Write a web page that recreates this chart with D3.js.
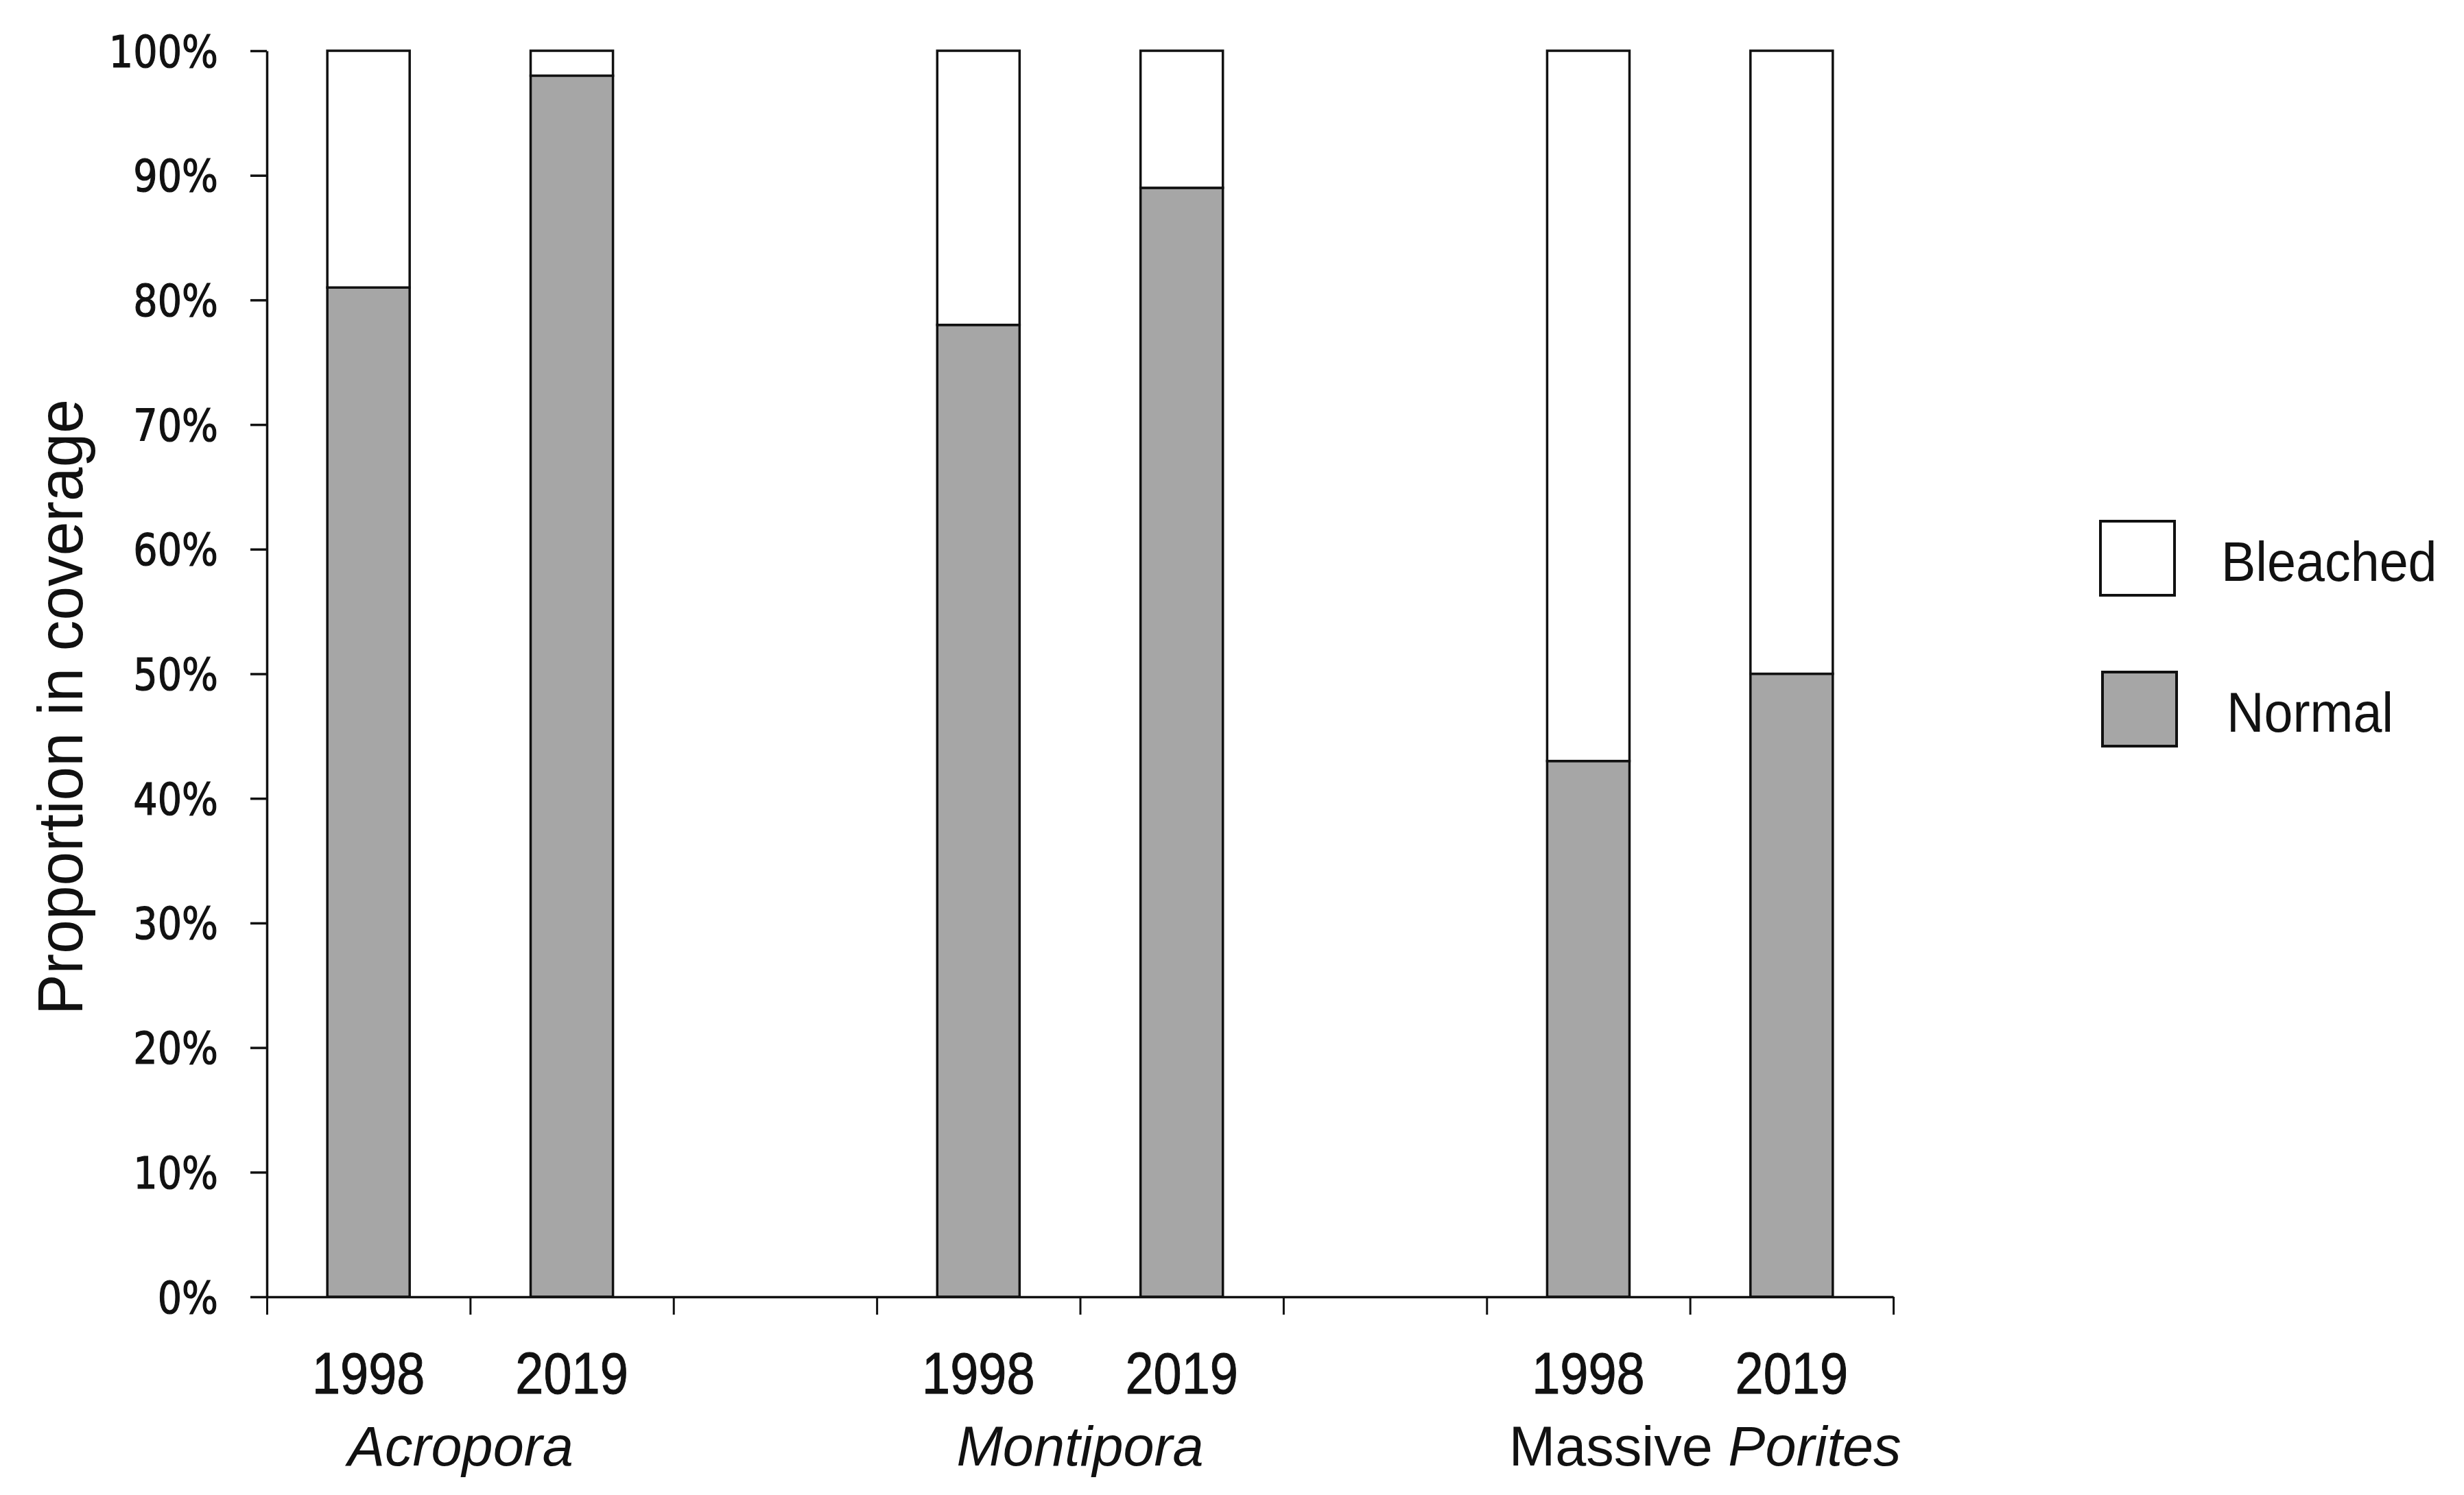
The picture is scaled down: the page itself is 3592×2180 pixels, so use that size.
<!DOCTYPE html>
<html>
<head>
<meta charset="utf-8">
<script src="https://cdn.jsdelivr.net/npm/d3@7"></script>
<style>
  html, body { margin: 0; padding: 0; background: #ffffff; }
  svg { display: block; }
</style>
</head>
<body>
<div id="chart"></div>
<script>
// ---------- data ----------
const slots = ["Acropora-1998", "Acropora-2019", "gap-1", "Montipora-1998", "Montipora-2019", "gap-2", "Porites-1998", "Porites-2019"];
const barSlots = ["Acropora-1998", "Acropora-2019", "Montipora-1998", "Montipora-2019", "Porites-1998", "Porites-2019"];
const barYears = ["1998", "2019", "1998", "2019", "1998", "2019"];
const normalPct = [81, 98, 78, 89, 43, 50];
const bleachedPct = [19, 2, 22, 11, 57, 50];
const groupNames = ["Acropora", "Montipora", "Massive Porites"];
const groupSlots = [["Acropora-1998", "Acropora-2019"], ["Montipora-1998", "Montipora-2019"], ["Porites-1998", "Porites-2019"]];
const yTicks = [0, 10, 20, 30, 40, 50, 60, 70, 80, 90, 100];
const legendLabels = ["Bleached", "Normal"];
const yTitle = "Proportion in coverage";

// ---------- layout ----------
const W = 3592, H = 2180;
const plot = { left: 389, right: 2760, top: 74, bottom: 1891 };
const gray = "#a6a6a6";
const groupLabelShift = [-14, 0, 22];

const svg = d3.select("#chart").append("svg")
  .attr("width", W).attr("height", H)
  .attr("viewBox", `0 0 ${W} ${H}`);

const x = d3.scaleBand().domain(slots).range([plot.left, plot.right]).padding(0);
const xb = d3.scaleLinear().domain([0, slots.length]).range([plot.left, plot.right]);
const y = d3.scaleLinear().domain([0, 100]).range([plot.bottom, plot.top]);

const barFrac = 0.405;
const bw = x.bandwidth() * barFrac;
const bx = s => x(s) + (x.bandwidth() - bw) / 2;

function squeeze(sel, f) {
  sel.each(function () {
    const n = this.getComputedTextLength();
    d3.select(this).attr("textLength", n * f).attr("lengthAdjust", "spacingAndGlyphs");
  });
}

// ---------- bars ----------
const rows = barSlots.map((s, i) => ({ slot: s, normal: normalPct[i], bleached: bleachedPct[i] }));
const stack = d3.stack().keys(["normal", "bleached"])(rows);
const fills = { normal: gray, bleached: "#ffffff" };

const gBars = svg.append("g");
stack.forEach(layer => {
  gBars.selectAll(null).data(layer).enter().append("rect")
    .attr("x", d => bx(d.data.slot))
    .attr("width", bw)
    .attr("y", d => y(d[1]))
    .attr("height", d => y(d[0]) - y(d[1]))
    .attr("fill", fills[layer.key])
    .attr("stroke", "#111")
    .attr("stroke-width", 3.5);
});

// ---------- y axis ----------
const yAxis = d3.axisLeft(y).tickValues(yTicks).tickSize(24).tickSizeOuter(0).tickPadding(47)
  .tickFormat(d => d + "%");
const gy = svg.append("g").attr("transform", `translate(${plot.left},0)`).call(yAxis);
gy.select(".domain").attr("stroke", "#111").attr("stroke-width", 3.5);
gy.selectAll(".tick line").attr("stroke", "#111").attr("stroke-width", 3.5);
gy.selectAll(".tick text")
  .attr("font-family", "'DejaVu Sans', sans-serif")
  .attr("font-size", 64).attr("fill", "#111")
  .attr("stroke", "#111").attr("stroke-width", 1.2)
  .attr("dy", "0.36em")
  .call(squeeze, 0.87);

// ---------- x axis (boundary ticks) ----------
const xAxis = d3.axisBottom(xb).tickValues(d3.range(0, slots.length + 1)).tickSize(26).tickSizeOuter(0).tickFormat("");
const gx = svg.append("g").attr("transform", `translate(0,${plot.bottom})`).call(xAxis);
gx.select(".domain").attr("stroke", "#111").attr("stroke-width", 3.5);
gx.selectAll(".tick line").attr("stroke", "#111").attr("stroke-width", 3);

// year labels
svg.append("g").selectAll("text").data(barSlots).enter().append("text")
  .attr("x", s => x(s) + x.bandwidth() / 2)
  .attr("y", 2032)
  .attr("text-anchor", "middle")
  .attr("font-family", "'Liberation Sans', Arial, sans-serif")
  .attr("font-size", 85).attr("fill", "#111")
  .attr("stroke", "#111").attr("stroke-width", 1)
  .text((s, i) => barYears[i])
  .call(squeeze, 0.87);

// group labels
const gGroup = svg.append("g");
groupNames.forEach((name, i) => {
  const cx = (x(groupSlots[i][0]) + x(groupSlots[i][1]) + x.bandwidth()) / 2 + groupLabelShift[i];
  const t = gGroup.append("text")
    .attr("x", cx).attr("y", 2137)
    .attr("text-anchor", "middle")
    .attr("font-family", "'Liberation Sans', Arial, sans-serif")
    .attr("font-size", 81).attr("fill", "#111");
  if (name.startsWith("Massive ")) {
    t.append("tspan").text("Massive ");
    t.append("tspan").attr("font-style", "italic").text(name.slice(8));
  } else {
    t.append("tspan").attr("font-style", "italic").text(name);
  }
});

// y title
svg.append("text")
  .attr("transform", `translate(120,1031) rotate(-90)`)
  .attr("text-anchor", "middle")
  .attr("font-family", "'Liberation Sans', Arial, sans-serif")
  .attr("font-size", 92).attr("fill", "#111")
  .text(yTitle)
  .call(squeeze, 0.97);

// ---------- legend ----------
const legendFills = [ "#ffffff", gray ];
const legendY = [760, 980];
const gl = svg.append("g");
legendLabels.forEach((lab, i) => {
  gl.append("rect")
    .attr("x", 3062 + i * 3).attr("y", legendY[i])
    .attr("width", 108).attr("height", 108)
    .attr("fill", legendFills[i])
    .attr("stroke", "#111").attr("stroke-width", 4);
  gl.append("text")
    .attr("x", 3238 + i * 8).attr("y", legendY[i] + 87)
    .attr("font-family", "'Liberation Sans', Arial, sans-serif")
    .attr("font-size", 82).attr("fill", "#111")
    .text(lab)
    .call(squeeze, 0.92);
});
</script>
</body>
</html>
